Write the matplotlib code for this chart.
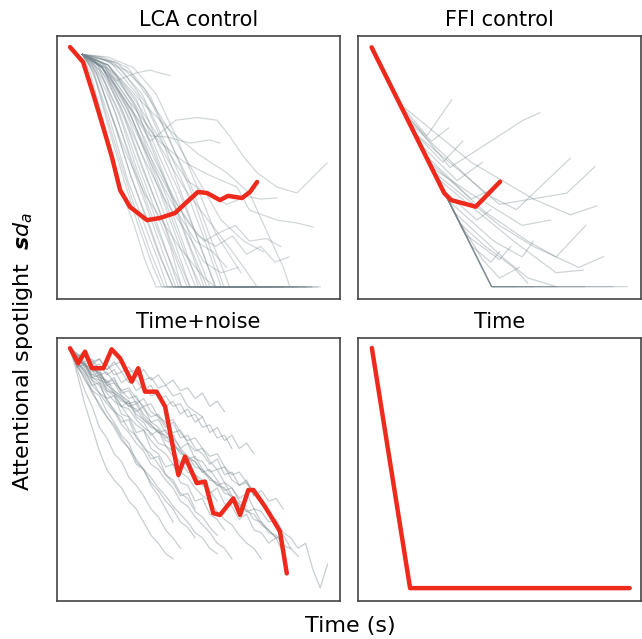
import matplotlib.pyplot as plt

RED = '#ee2a1c'
GREY = '#74848c'

# ---- LCA control ----
lca_red_x = [4.6, 9.2, 12.7, 16.3, 19.4, 22.3, 25.8, 31.8, 36.4, 41.7, 45.9, 49.8, 53.0, 57.6, 60.4, 65.4, 68.2, 70.7]
lca_red_y = [95.8, 90.1, 78.3, 65.4, 54.0, 41.4, 35.0, 30.0, 30.8, 32.7, 36.9, 40.7, 40.3, 37.6, 39.2, 38.4, 40.7, 44.5]

lca_grey = [
    ([9, 12, 17, 22, 27, 31, 35, 50], [93, 85, 65, 43, 29, 15, 4.6, 4.6]),
    ([9, 13, 18, 24, 29, 34, 37, 55], [93, 86, 66, 44, 27, 12, 4.6, 4.6]),
    ([9, 13, 19, 25, 31, 36, 39, 60], [93, 86, 67, 45, 28, 14, 4.6, 4.6]),
    ([9, 14, 20, 26, 32, 37, 41, 58], [93, 86, 68, 47, 30, 15, 4.6, 4.6]),
    ([9, 14, 21, 27, 33, 38, 42, 66], [93, 87, 70, 49, 31, 16, 4.6, 4.6]),
    ([9, 15, 22, 28, 34, 39, 43, 62], [93, 87, 70, 50, 33, 17, 4.6, 4.6]),
    ([9, 15, 22, 29, 35, 40, 44, 70], [93, 87, 71, 50, 33, 20, 4.6, 4.6]),
    ([9, 16, 23, 30, 36, 41, 46, 68], [93, 88, 72, 51, 34, 18, 4.6, 4.6]),
    ([9, 16, 24, 31, 37, 43, 47, 75], [93, 88, 72, 52, 35, 17, 4.6, 4.6]),
    ([9, 17, 25, 32, 38, 44, 49, 72], [93, 88, 73, 53, 36, 18, 4.6, 4.6]),
    ([9, 17, 26, 33, 39, 45, 50, 80], [93, 89, 74, 54, 38, 20, 4.6, 4.6]),
    ([9, 18, 27, 34, 40, 46, 52, 78], [93, 89, 75, 56, 40, 22, 4.6, 4.6]),
    ([9, 18, 28, 35, 42, 48, 54, 85], [93, 89, 76, 57, 40, 21, 4.6, 4.6]),
    ([9, 19, 29, 36, 43, 50, 56, 82], [93, 90, 77, 58, 41, 22, 4.6, 4.6]),
    ([9, 20, 30, 38, 45, 52, 58, 88], [93, 90, 78, 60, 43, 23, 4.6, 4.6]),
    ([9, 21, 31, 39, 47, 54, 61, 92], [93, 90, 80, 62, 44, 24, 4.6, 4.6]),
    ([9, 11, 14, 18, 23, 28, 33, 38, 60], [93, 90, 82, 68, 50, 33, 18, 4.6, 4.6]),
    ([9, 12, 16, 21, 26, 31, 36, 41, 63], [93, 90, 80, 64, 47, 32, 17, 4.6, 4.6]),
    ([9, 12, 17, 22, 28, 33, 39, 44, 70], [93, 91, 82, 66, 48, 33, 17, 4.6, 4.6]),
    ([9, 13, 18, 24, 30, 36, 42, 47, 76], [93, 91, 83, 68, 50, 34, 17, 4.6, 4.6]),
    ([9, 13, 19, 26, 33, 39, 45, 51, 84], [93, 91, 84, 70, 52, 35, 18, 4.6, 4.6]),
    ([9, 14, 21, 28, 35, 41, 47, 53, 88], [93, 91, 85, 72, 55, 38, 20, 4.6, 4.6]),
    ([9, 15, 23, 31, 38, 44, 50, 56, 90], [93, 92, 87, 75, 58, 40, 22, 4.6, 4.6]),
    ([9, 16, 25, 33, 40, 47, 53, 59, 80], [93, 92, 88, 77, 60, 42, 23, 4.6, 4.6]),
    ([9, 18, 27, 35, 42, 49, 56, 65], [93, 92, 88, 78, 62, 44, 25, 10]),
    ([9, 17, 26, 34, 42, 50, 58, 66, 73], [93, 91, 86, 74, 60, 45, 30, 22, 18]),
    ([9, 15, 21, 28, 33, 36, 40], [93, 89, 83, 86, 87, 86, 85]),
    ([9, 16, 24, 33, 42, 49.5, 56.5, 61, 66, 70.7, 77.7, 84.8, 89.4, 95.4],
     [93, 88, 76, 60, 68, 69, 68, 62, 54, 48, 42.6, 40.3, 45.2, 51.7]),
    ([9, 16, 25, 33, 38.9, 47, 54, 57.6], [93, 88, 74, 62, 61.6, 59.3, 60.5, 59.3]),
    ([9, 17, 27, 36, 45, 54, 63.6, 68, 77.7, 84.8, 90.5],
     [93, 88, 73, 60, 52, 47, 42.6, 33.8, 30, 28.9, 27.4]),
    ([9, 18, 29, 40, 50, 60, 68, 74, 80, 82.3, 93], [93, 89, 76, 64, 55, 48, 40.3, 26, 12, 4.6, 4.6]),
    ([9, 18, 28, 38, 46, 53, 60, 67, 72, 77.7], [93, 89, 75, 58, 45, 40, 36, 39, 38, 38.4]),
    ([9, 17, 26, 35, 43, 50, 56, 62, 67, 72, 77, 82], [93, 88, 72, 52, 35, 24, 20, 24, 17, 20, 14, 16]),
    ([9, 16, 24, 32, 40, 47, 52, 57, 62, 66, 70.7, 90], [93, 88, 74, 56, 40, 28, 22, 25, 18, 12, 4.6, 4.6]),
    ([9, 17, 27, 37, 45, 52, 57, 63, 68, 74, 79], [93, 89, 75, 57, 42, 32, 25, 28, 22, 23, 20]),
    ([9, 15, 22, 30, 38, 46, 52, 58, 64], [93, 88, 74, 55, 38, 25, 14, 10, 12]),
    ([9, 16, 25, 34, 42, 49, 55, 60], [93, 88, 70, 50, 34, 22, 18, 12]),
    ([9, 14, 19, 25, 31, 37, 43, 52, 56], [93, 86, 70, 54, 40, 30, 20, 8, 4.6]),
]

# ---- FFI control ----
ffi_red_x = [4.8, 30.5, 32.9, 41.6, 50.2]
ffi_red_y = [95.7, 40.2, 37.6, 35.1, 44.6]

ffi_grey = [
    ([4.8, 14.8, 24.3, 33.1], [95.7, 74.2, 62, 75.7]),
    ([4.8, 16, 32.5, 58.4, 64.3], [95.7, 71.7, 50, 68, 70.8]),
    ([4.8, 14.8, 40, 62, 75, 84.4], [95.7, 74.2, 52, 38, 32, 35.4]),
    ([4.8, 18, 45, 56, 75], [95.7, 67.4, 40, 34, 53.5]),
    ([4.8, 20, 50, 73.7, 83.7], [95.7, 63.1, 36, 40.2, 50.3]),
    ([4.8, 17, 26, 32], [95.7, 69.5, 60, 65]),
    ([4.8, 22, 35, 44], [95.7, 58.8, 45, 52]),
    ([4.8, 24, 40, 48], [95.7, 54.5, 38, 42]),
    ([4.8, 25, 45, 60, 70, 80.5], [95.7, 52.4, 33, 22, 16, 28]),
    ([4.8, 27, 50, 62, 78, 86.7], [95.7, 48.1, 28, 20, 12, 16.1]),
    ([4.8, 28, 55, 70, 79.6], [95.7, 45.9, 22, 10, 11]),
    ([4.8, 30, 42, 47], [95.7, 41.6, 30, 34]),
    ([4.8, 32, 48, 58, 62], [95.7, 37.3, 22, 16, 22]),
    ([4.8, 34, 52, 60, 70], [95.7, 33, 15, 8, 4.7]),
    ([4.8, 36, 45, 55, 60], [95.7, 28.7, 20, 12, 6]),
    ([4.8, 38, 50, 54], [95.7, 24.5, 15, 20]),
    ([4.8, 40, 47, 50], [95.7, 20.2, 14, 18]),
    ([4.8, 42, 47.2, 95], [95.7, 16, 4.7, 4.7]),
    ([4.8, 47.2, 90], [95.7, 4.7, 4.7]),
    ([4.8, 47.2, 80], [95.7, 4.7, 4.7]),
    ([4.8, 47.2, 70], [95.7, 4.7, 4.7]),
    ([4.8, 47.2, 62], [95.7, 4.7, 4.7]),
    ([4.8, 47.2, 56], [95.7, 4.7, 4.7]),
    ([4.8, 20, 30, 37], [95.7, 63.1, 52, 60]),
    ([4.8, 26, 40, 58, 68], [95.7, 50, 40, 28, 30]),
    ([4.8, 35, 44, 50, 57], [95.7, 30.9, 15, 8, 12]),
]

# ---- Time+noise ----
noise_red_x = [4.6, 7.5, 9.9, 12.3, 16.4, 19.3, 22.3, 26.4, 28.7, 31.1, 35.2, 38.2, 42.9, 45.2,
               49.4, 52.3, 55.2, 57.6, 62.3, 64.7, 67.6, 69.4, 73.5, 76.4, 78.8, 81.2]
noise_red_y = [96.1, 90.4, 94.8, 88.5, 88.5, 95.7, 92.3, 83.4, 88.5, 79.6, 79.6, 73.9, 47.9, 54.9,
               44.8, 45.4, 33.4, 32.7, 39.0, 32.7, 42.2, 42.2, 35.9, 30.8, 26.4, 10.5]

noise_x0 = 4.6
noise_dx = 2.6
noise_grey = [
    [96, 93, 95, 90, 92, 88, 91, 87, 89, 85, 88, 84, 86, 82, 84, 80, 81, 77, 79, 74, 76, 72],
    [96, 92, 94, 89, 90, 86, 88, 83, 85, 80, 82, 78, 79, 74, 76, 71, 73, 68, 70, 64, 66, 61, 63, 58, 60, 56],
    [96, 91, 93, 88, 87, 83, 85, 79, 80, 75, 77, 72, 70, 66, 68, 62, 63, 58, 56, 52, 54, 48, 49, 44, 46, 40,
     42, 38, 39, 35],
    [96, 90, 91, 85, 86, 80, 79, 74, 76, 70, 68, 63, 65, 59, 57, 52, 54, 48, 46, 41, 43, 37, 36, 31, 33, 27,
     26, 22, 24, 18],
    [96, 92, 90, 87, 88, 82, 83, 78, 76, 72, 74, 68, 69, 64, 62, 58, 60, 54, 53, 49, 50, 45, 43, 39, 41, 35,
     34, 30, 31, 26, 24, 20, 22, 12, 5, 14],
    [96, 89, 90, 84, 82, 77, 78, 71, 70, 64, 65, 58, 56, 51, 52, 45, 44, 38, 39, 33, 31, 27],
    [96, 90, 88, 82, 83, 76, 73, 68, 69, 62, 59, 54, 55, 48, 45, 40, 41, 35],
    [96, 89, 86, 80, 78, 72, 68, 63, 60, 53, 50, 44, 40, 35, 30],
    [96, 86, 75, 66, 57, 50, 46, 43, 38, 35, 30, 25, 22, 18, 16],
    [96, 88, 80, 74, 66, 62, 56, 53, 47, 44, 40, 35, 32, 27, 24, 20],
    [96, 90, 84, 80, 74, 70, 66, 61, 58, 52, 50, 45, 42, 38, 35, 30, 28, 24],
    [96, 91, 87, 84, 79, 77, 72, 70, 65, 63, 58, 56, 52, 48, 46, 41, 39, 34, 32, 28, 25],
    [96, 93, 89, 90, 85, 84, 80, 78, 75, 76, 71, 68, 66, 62, 63, 58, 55, 53, 49, 50, 46, 42, 43, 38, 36],
    [96, 92, 93, 89, 86, 87, 83, 80, 81, 77, 74, 75, 70, 68, 69, 64, 61, 62, 58, 55, 56, 51, 48, 49, 45, 42],
    [96, 94, 91, 92, 88, 90, 86, 87, 83, 84, 80, 82, 77, 78, 74, 75, 70, 71, 66, 67, 62, 63, 58],
    [96, 93, 94, 91, 92, 88, 90, 91, 87, 88, 84, 85, 81, 82, 78, 79, 74, 72, 70],
    [96, 91, 88, 85, 83, 79, 76, 74, 70, 67, 65, 61, 58, 56, 52, 49, 47, 43, 40, 38, 34, 31, 29, 25, 22, 20, 16],
    [96, 92, 89, 86, 87, 82, 80, 77, 74, 75, 70, 67, 64, 65, 60, 57, 54, 55, 50, 47, 44, 45, 40, 37, 34, 35,
     30, 27, 24, 25, 20, 17],
    [96, 90, 87, 82, 79, 75, 72, 67, 64, 60, 57, 52, 50, 46, 43, 38, 36, 32, 29, 26, 22, 20, 16],
    [96, 93, 90, 91, 86, 83, 84, 80, 77, 78, 73, 70, 71, 67, 64, 65, 60, 57, 58, 53, 50, 51, 46, 44, 45, 40],
    [96, 89, 85, 79, 75, 70, 67, 62, 58, 54, 50, 47, 43, 40, 36, 33, 30, 26, 24, 20, 18],
    [96, 94, 90, 88, 84, 83, 79, 77, 74, 73, 69, 67, 64, 63, 59, 57, 54, 53, 49, 47, 44, 43, 39, 37, 34, 33,
     29, 27, 24],
    [96, 92, 90, 86, 85, 81, 79, 76, 75, 71, 69, 66, 65, 61, 60, 56, 55, 51, 50, 46, 45, 41, 40, 36, 35, 31,
     30, 26, 25, 21, 20],
    [96, 91, 90, 85, 84, 80, 78, 74, 73, 69, 66, 64, 60, 59, 55, 53, 49, 48, 44, 42, 38],
]

# ---- Time ----
time_red_x = [4.9, 18.4, 96.0]
time_red_y = [96.2, 4.9, 4.9]

fig = plt.figure(figsize=(6.42, 6.39), dpi=100)

left_col, right_col = 57 / 642, 358 / 642
top_row, bottom_row = 1 - 299 / 639, 1 - 601 / 639
w, h = 283 / 642, 263 / 639

ax_lca = fig.add_axes([left_col, top_row, w, h])
ax_ffi = fig.add_axes([right_col, top_row, w, h])
ax_noise = fig.add_axes([left_col, bottom_row, w, h])
ax_time = fig.add_axes([right_col, bottom_row, w, h])

for xs, ys in lca_grey:
    ax_lca.plot(xs, ys, color=GREY, lw=0.9, alpha=0.32)
ax_lca.plot(lca_red_x, lca_red_y, color=RED, lw=3.2, solid_joinstyle='round', solid_capstyle='round')

for xs, ys in ffi_grey:
    ax_ffi.plot(xs, ys, color=GREY, lw=0.9, alpha=0.35)
ax_ffi.plot(ffi_red_x, ffi_red_y, color=RED, lw=3.2, solid_joinstyle='round', solid_capstyle='round')

for ys in noise_grey:
    xs = [noise_x0 + noise_dx * i for i in range(len(ys))]
    ax_noise.plot(xs, ys, color=GREY, lw=0.9, alpha=0.4)
ax_noise.plot(noise_red_x, noise_red_y, color=RED, lw=3.2, solid_joinstyle='round', solid_capstyle='round')

ax_time.plot(time_red_x, time_red_y, color=RED, lw=3.2, solid_joinstyle='round', solid_capstyle='round')

titles = ['LCA control', 'FFI control', 'Time+noise', 'Time']
for ax, t in zip([ax_lca, ax_ffi, ax_noise, ax_time], titles):
    ax.set_xlim(0, 100)
    ax.set_ylim(0, 100)
    ax.set_xticks([])
    ax.set_yticks([])
    for s in ax.spines.values():
        s.set_color('#444444')
        s.set_linewidth(1.2)
    ax.set_title(t, fontsize=15, pad=7)

fig.text(0.036, 0.45, r'Attentional spotlight  $\boldsymbol{sd_a}$', rotation=90,
         ha='center', va='center', fontsize=16)
fig.text(0.545, 0.021, 'Time (s)', ha='center', va='center', fontsize=16)

fig.savefig('out.png', dpi=100)
